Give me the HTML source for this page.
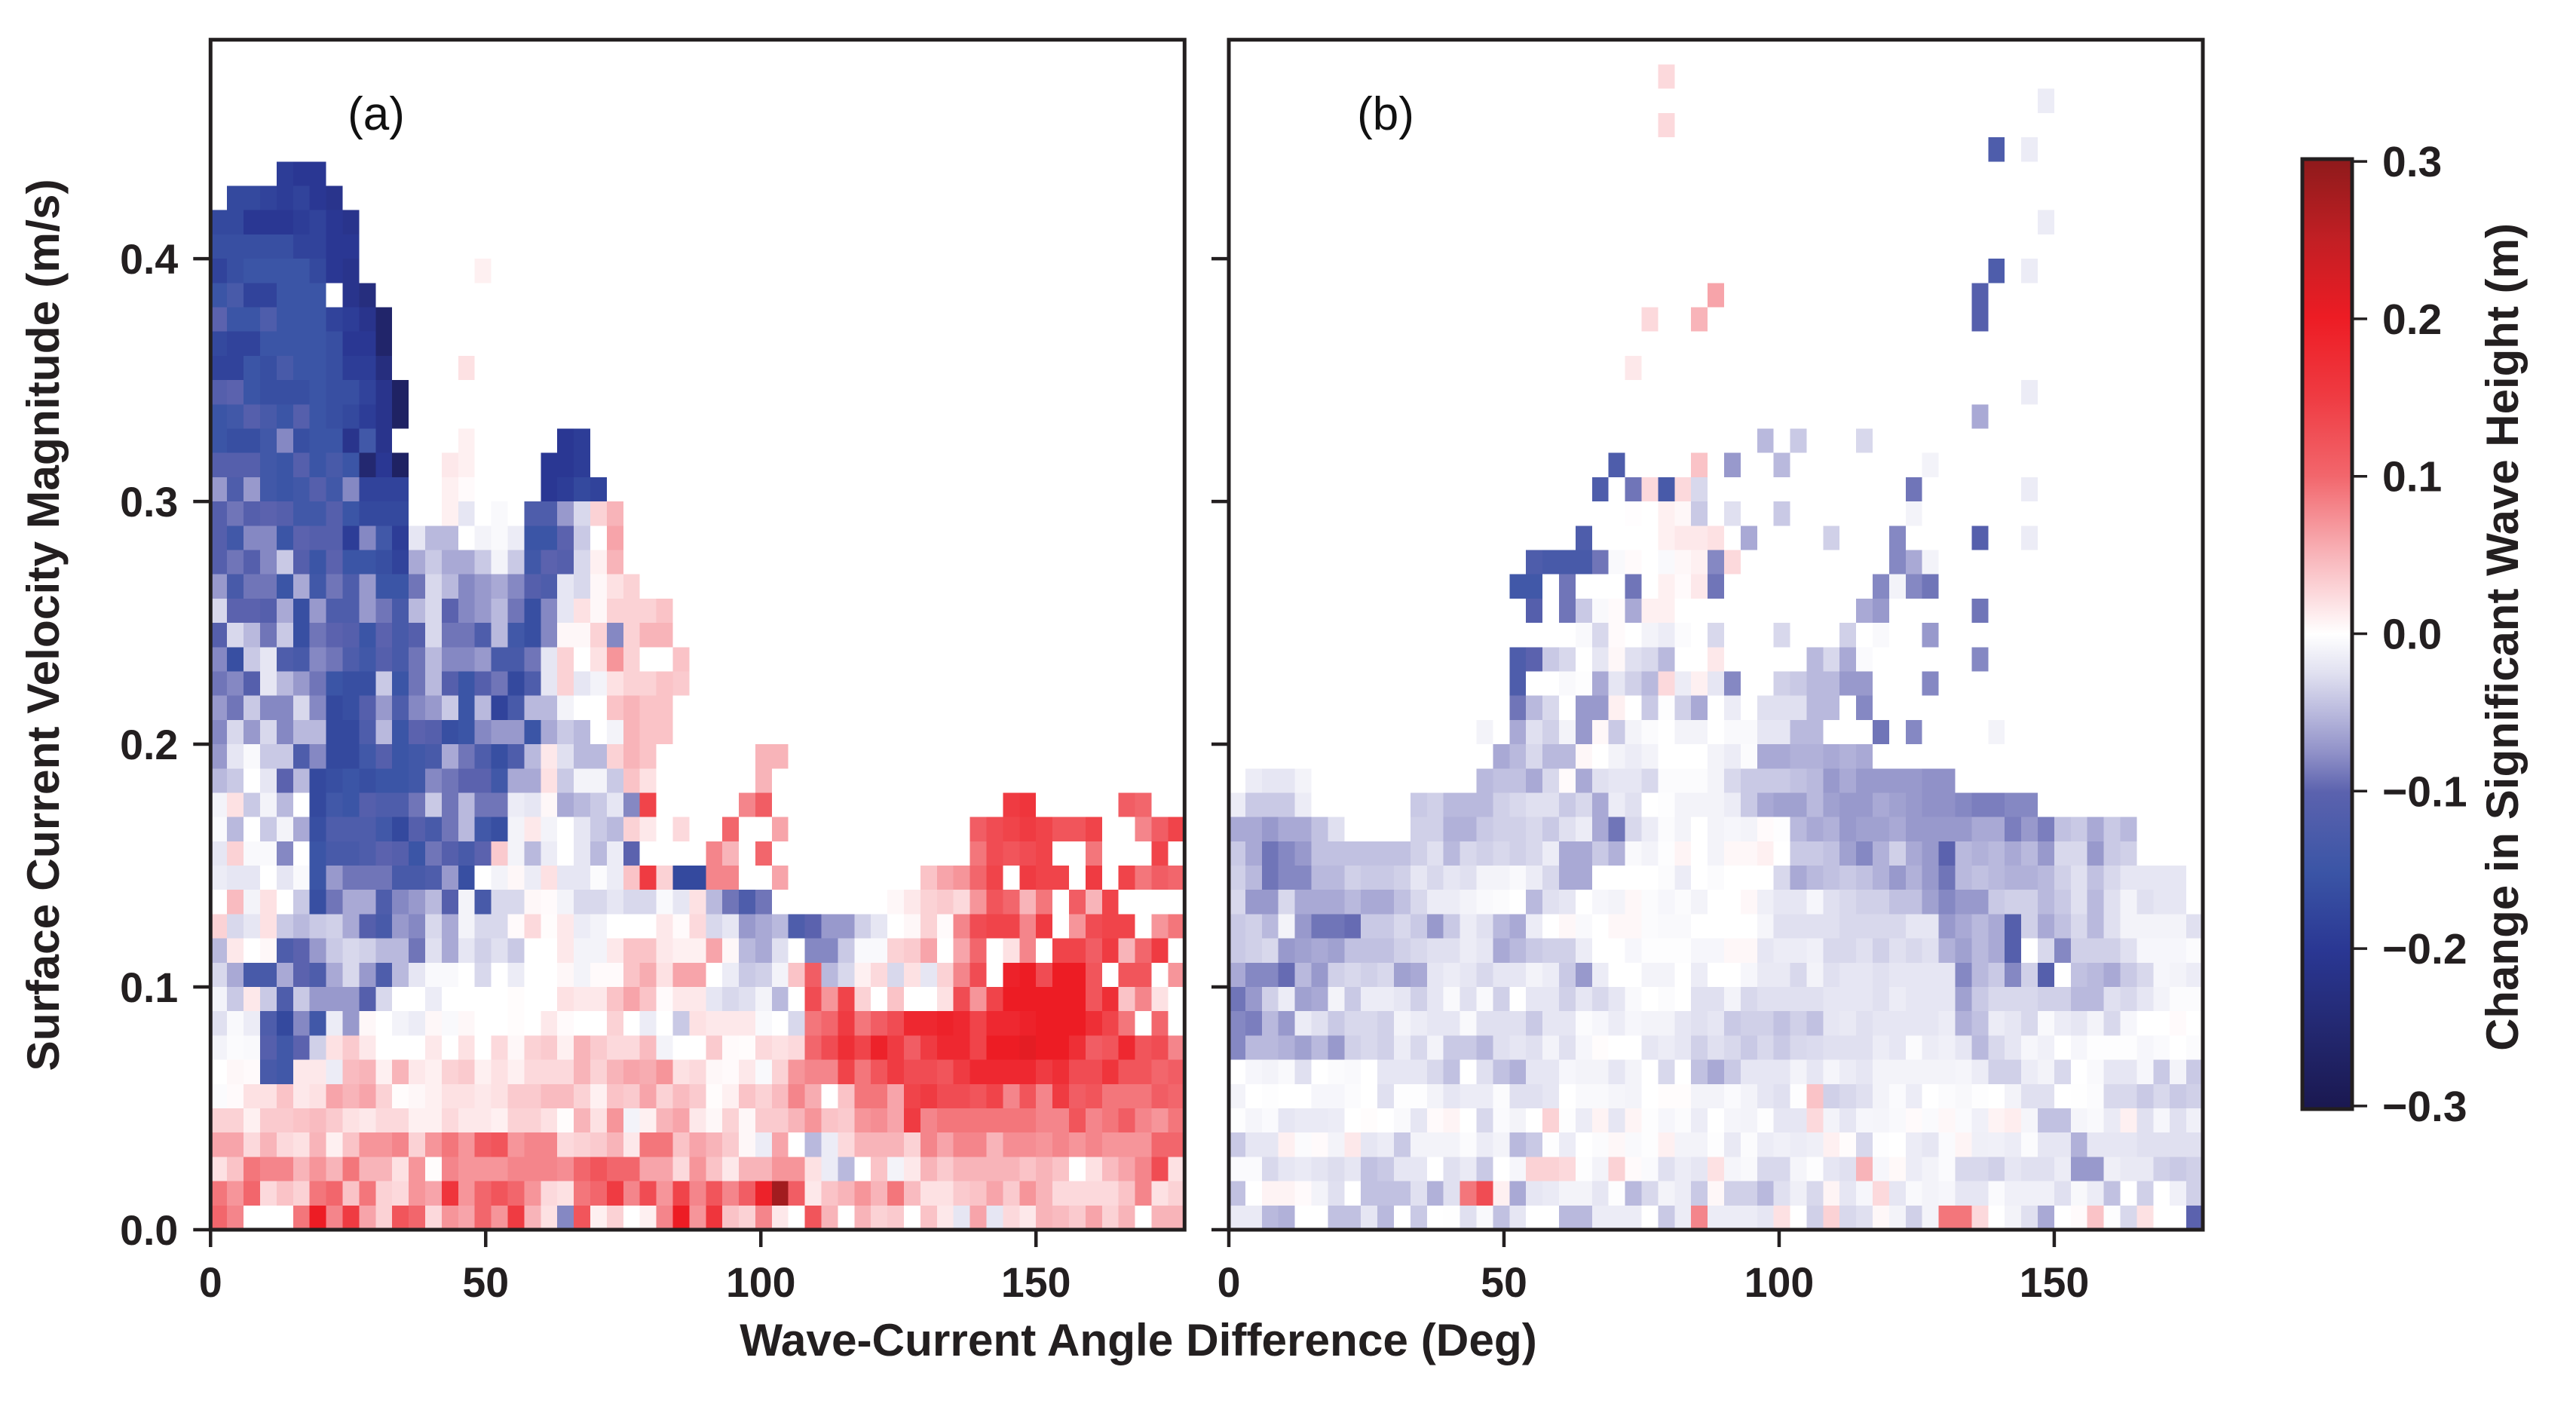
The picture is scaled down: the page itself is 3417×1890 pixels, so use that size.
<!DOCTYPE html>
<html lang="en">
<head>
<meta charset="utf-8">
<title>Change in significant wave height heatmaps</title>
<style>
html,body{margin:0;padding:0;background:#fff;}
svg{display:block;font-family:"Liberation Sans",sans-serif;}
</style>
</head>
<body>
<svg id="chart" xmlns="http://www.w3.org/2000/svg" width="3417" height="1890" viewBox="0 0 3417 1890">
  <defs><linearGradient id="cbarGrad" x1="0" y1="1" x2="0" y2="0"></linearGradient></defs>
  <rect x="0" y="0" width="3417" height="1890" fill="#ffffff"/>
  <g id="cellsA" shape-rendering="crispEdges"></g>
  <g id="cellsB" shape-rendering="crispEdges"></g>
  <g id="axes"></g>
  <text x="499" y="172" font-size="62" text-anchor="middle" fill="#111">(a)</text>
  <text x="1838" y="172" font-size="62" text-anchor="middle" fill="#111">(b)</text>
  <text x="1510" y="1798" font-size="60.3" font-weight="bold" text-anchor="middle" fill="#231f20">Wave-Current Angle Difference (Deg)</text>
  <text transform="translate(78,829) rotate(-90)" font-size="60.5" font-weight="bold" text-anchor="middle" fill="#231f20">Surface Current Velocity Magnitude (m/s)</text>
  <rect id="cbarFill" x="3054" y="211" width="66" height="1260" fill="url(#cbarGrad)" stroke="#231f20" stroke-width="5"/>
  <g id="cbarAxis"></g>
  <text transform="translate(3340,845) rotate(-90)" font-size="60" font-weight="bold" text-anchor="middle" fill="#231f20">Change in Significant Wave Height (m)</text>
</svg>
<script>
const _ = null;
const angleBinDeg = 3;
const speedBinMs = 0.01;
const xTickValues = [0, 50, 100, 150];
const xTickLabels = ["0", "50", "100", "150"];
const yTickValues = [0, 0.1, 0.2, 0.3, 0.4];
const yTickLabels = ["0.0", "0.1", "0.2", "0.3", "0.4"];
const cbarTickValues = [-0.3, -0.2, -0.1, 0, 0.1, 0.2, 0.3];
const cbarTickLabels = ["\u22120.3", "\u22120.2", "\u22120.1", "0.0", "0.1", "0.2", "0.3"];
const colormapValues = [-0.3, -0.25, -0.2, -0.15, -0.1, -0.075, -0.05, -0.025, 0, 0.025, 0.05, 0.1, 0.15, 0.2, 0.25, 0.3];
const colormapColors = ["#1a1850", "#232870", "#2a3793", "#3b55a6", "#5b62ae", "#9091c8", "#b9b9dd", "#e0e0f0", "#ffffff", "#fcd9dc", "#f8b4b9", "#f2666c", "#ef3b42", "#ed1c24", "#c11f24", "#8e1a1b"];

/* Change in wave height in cm; rows run upward from 0.00 m/s, columns rightward from 0 deg. */
const panelAValues = [
[10,8,0,0,0,9,20,8,15,6, 3,12,10,2.5,7,6,10,7,15,5, 2,-8,12,1,3,0,1,8,20,7, 16,4,3,8,1.5,0,12,5,0,5, 3,3.5,0,4,1.5,-2,6,-2,2.5,1.5, 5,4.5,3.5,6,3,5,0,5,5],
[9,7,10,2.5,4,3,9,10,4,9, 3,2.5,7,6,16,7,10,12,10,7, 2.5,2,9,10,15,8,13,7,14,8, 12,8,11,19,28,11,1.5,4,5,7, 5,9,4.5,2,2,3.5,4,6,3.5,7, 5,2.5,2.5,2.5,2.5,4,8,2,3],
[2,4,9,8,8,5,7,5,9,5, 5,2,7,0.2,8,7,7,7,8,8, 8,7.5,10,12,10,10,6,6,2.5,7, 4,1.5,5,5,7,7,2,-1.5,-5,0, 4,-1,1.5,5,3.5,5,5,5,5,4, 5,4,0,2,4.5,6,8,13,2],
[6,6,2.5,5,2.5,2,5,1,4,7, 7,8,3,7,9,7,11,12,7,8, 8,2.5,3,3.5,5,1.5,9,9,4,6, 5,3.5,0.5,-1.5,6,0,-5,-1.5,2.5,5, 5,5,3,8,6,8,8,5,7.5,7.5, 7,8,7,8,7,7,7,10,10],
[3,3,1,3.5,3.5,4,4.5,3.5,2,1.5, 2.5,2.5,1,1,2.5,1.5,1.5,1,3,3, 2,0.2,5,2,7,-1,1,5,6,1.5, 0.5,3,0.5,3.5,3.5,5,7,4,3.5,7, 7.5,6,15,8,9,9,9,9,9,9, 8,8,12,8,9,11,8,7,9],
[-0.3,0.3,2,2,4,1.5,2,6,5,6, 3,0.2,0.5,1,2,2,1.5,2,3.5,3.5, 4.5,4.5,3,1,4,3.5,6,3,4.5,3.5, 0.2,1,4,3,4.5,8,5.5,0,4,9, 9,6,14,15,13,13,12,14,8,12, 8,15,11,12,9,9,9,11,10],
[0,0.5,0.3,-13,-14,1.5,1.5,-1.5,4.5,5, 1,5,1.5,1,3,3.5,1,2,1,2.5, 2.5,2.5,5,3,5,6,5.5,7,2,2.5, 0.5,0.3,1.5,-0.5,3,7,8,8,14,9, 12,15,13,13,12,15,18,18,18,18, 15,17,13,13,16,12,12,10,11],
[-1,-0.3,-0.5,-11,-14,-10,-3.5,2,3.5,1.5, 0,0,0,1.5,0,2,0,2.5,0.5,3, 3.5,1,5,3.5,2.5,2.5,4.5,-1,0,0, 3.5,0.3,0.2,2.5,2,2.5,10,13,17,14, 19,15,11,15,18,18,14,20,20,21, 20,20,17,11,12,18,12,13,8],
[-2.5,-0.5,-1.5,-12,-17,-8,-14,-1.5,-7,0.5, 0,-1,-1.5,0.5,-0.5,0.5,0,0,0.2,0, 1.5,0.3,0,0,3,0,-1.5,0,-4,2, 1.5,1.5,1.5,-0.5,0,-3,9,10,15,9, 11,13,18,18,19,18,14,18,18,19, 20,20,20,17,14,9,0,10,0],
[-1,-4,1.5,-4,-12,-4,-7,-7,-7,-11, -3,0,0,-1.5,0,0,0,0,0.2,0, 0,2,1.5,1.5,4,6,4,0.3,1.5,1.5, -2,-3,-2.5,-1,-5,0,13,7,14,3, 0,4,0,0,2,13,7,14,20,20, 20,20,20,12,17,4,8,2,0],
[-3,-6,-13,-13,-6,-10,-12,-6,-3,-7, -12,-5,-2,-0.5,-0.5,0,-3,0,-1.5,0, 0,0.5,-1,0.3,0.3,4,5.5,2,6,6, 0,-1.5,-4,-3.5,-1,4,11,-5,-3,1, 2.5,-3,2,-2,3,8,13,0,19,20, 13,20,20,12,0,12,12,0,7],
[-5,1.5,0,0.5,-12,-10,-7,-4,-3,-3.5, -5,-5,-9,-2.5,-6,-2,-3.5,-2.5,-4,0, 0,1.5,-1,-1,1.5,4,4,1.5,1,1, 6,0.5,-5,-6,-2.5,0,-8,-8,-4,-0.5, -0.5,3,3.5,6,0,6,10,0,2,8, 0,14,14,11,15,5,10,15,0],
[3,-3,-2,2,-4,-5,-4,-3.5,-6,-11, -13,-7,-8,-3,-6,-1,-3,-3,0.3,2.5, 0.2,1.5,-1.5,-1,0,0,0,1.5,0.3,2.5, -3,-2,-7,-6,-5,-12,-10,-7,-7,-3.5, -2,0,0.5,3,0.3,8,13,14,14,8, 15,0,7,13,14,14,0,7,9],
[0,4.5,-1,2,0,-4,-16,-9,-6,-6, -12,-8,-7,-5,-11,-1,-13,-3,-3,0.5, 0.3,-1,-3,-3,-2,-3,-3,-0.5,-2,2, -5,-9,-12,-9,_,_,_,_,_,_, _,0.5,1.5,3,3.5,2.5,7,12,10,5, 9,_,11,5,14],
[-1.5,-2,-2,0,-2,-0.5,-15,-7,-9,-9, -9,-13,-13,-12,-7,-16,0,-1,0.5,-1.5, 2,-2,-2,-0.3,-1.5,4,15,3,-17,-17, 8,8,_,_,6,_,_,_,_,_, _,_,_,4,6,7,10,14,_,15, 14,14,_,15,_,14,9,11,10],
[-2,3,-0.5,-0.5,-8,0,-15,-13,-13,-12, -10,-11,-15,-9,-11,-13,-10,3.5,-1,-5, -1.5,0,-2,-5,-1.5,-10,_,_,_,_, 8,5,_,10,_,_,_,_,_,_, _,_,_,_,_,_,9,13,12,13, 14,_,_,9,_,_,_,14],
[-0.5,-5,0,-4,-1,-6,-16,-12,-12,-12, -14,-17,-11,-13,-9,-5,-14,-16,-1,1.5, -1,0,-2,-4,-5,3,1.5,0,2.5,_, _,10,_,_,6,_,_,_,_,_, _,_,_,_,_,_,11,13,14,15, 14,12,12,14,_,_,8,11,14],
[-1,2,-4,-1,-5,0,-17,-14,-15,-11, -12,-12,-9,-4,-9,-5,-9,-9,-1.5,-2, 0.5,-6,-5,-4,-2,-8,14,_,_,_, _,_,8,11,_,_,_,_,_,_, _,_,_,_,_,_,_,_,15,16, _,_,_,_,_,11,10],
[-5,-4,0,-2,-10,-5,-17,-16,-15,-16, -15,-15,-14,-8,-9,-10,-10,-14,-6,-6, 2,-4,-1,-1,-4,4,2,_,_,_, _,_,_,5],
[-7,-2,-0.5,-4,-4,-12,-8,-17,-17,-14, -11,-15,-14,-13,-6,-9,-12,-16,-12,-5, 1.5,-2.5,-5,-5,3,5,4,_,_,_, _,_,_,5,5],
[-8,-3,-7,-3,-8,-5,-5,-17,-17,-12, -5,-15,-10,-11,-16,-15,-8,-7,-7,-15, -6,-4,-5,0,-1,5,4,4],
[-7,-9,-4,-8,-8,-3,-8,-17,-16,-11, -7,-12,-8,-7,-4,-15,-5,-18,-13,-5, -5,-1,0,0,4,5,4,4],
[-9,-8,-11,-2,-5,-7,-9,-15,-16,-16, -4,-15,-9,-5,-11,-15,-11,-9,-17,-12, -2,3,-2,-1,2,3,3,4,3.5],
[-8,-16,-4,-2,-12,-13,-8,-9,-12,-14, -11,-13,-9,-5,-8,-8,-7,-13,-13,-9, -2,3,0,2,7,3,_,_,4],
[-11,-3,-5,-9,-4,-16,-9,-10,-11,-15, -10,-13,-11,-3,-9,-9,-12,-5,-14,-16, -8,0.5,0.5,3,-8,3,5,5],
[-3,-10,-10,-11,-6,-16,-7,-12,-12,-7, -9,-13,-5,-3,-10,-8,-7,-5,-9,-16, -8,-2,2,0.5,3,3,3,4],
[-7,-13,-9,-9,-15,-6,-14,-9,-12,-7, -15,-15,-9,-3,-5,-8,-7,-6,-8,-11, -12,-2,-3,0.5,2,3],
[-11,-9,-11,-8,-4,-11,-15,-10,-15,-15, -16,-18,-6,-4,-6,-6,-4,-1,-4,-14, -10,-11,-3,1,5],
[-11,-14,-8,-8,-15,-10,-11,-11,-19,-8, -14,-19,-2,-5,-5,0,-1,-0.5,-1.5,-15, -15,-10,-4,0,6],
[-11,-9,-11,-10,-11,-14,-14,-11,-15,-17, -17,-17,_,_,1,-2,_,-0.5,_,-12, -12,-7,-3,3,5],
[-7,-12,-7,-14,-15,-14,-11,-14,-8,-18, -18,-18,_,_,1,0.3,_,_,_,_, -20,-19,-17,-18],
[-11,-11,-11,-14,-15,-11,-15,-13,-15,-25, -20,-27,_,_,1.5,1,_,_,_,_, -20,-20,-19],
[-15,-16,-16,-14,-8,-16,-15,-15,-21,-14, -21,_,_,_,_,1,_,_,_,_, _,-20,-19],
[-15,-14,-11,-13,-15,-11,-15,-16,-17,-19, -21,-27],
[-11,-10,-15,-16,-16,-16,-15,-16,-16,-18, -21,-27],
[-18,-18,-15,-16,-13,-15,-15,-16,-19,-19, -23,_,_,_,_,2],
[-17,-18,-18,-15,-15,-15,-15,-16,-20,-20, -26],
[-10,-15,-15,-12,-15,-15,-15,-18,-19,-21, -26],
[-15,-13,-18,-18,-15,-15,-15,_,-21,-23],
[-18,-16,-15,-15,-15,-15,-17,-20,-21,_, _,_,_,_,_,_,1],
[-16,-16,-16,-16,-16,-18,-18,-20,-20],
[-17,-17,-20,-20,-20,-19,-18,-20,-21],
[_,-17,-17,-18,-19,-18,-20,-21],
[_,_,_,_,-19,-20,-20]
];

const panelBValues = [
[-1.7,-1.7,-5,-5.5,0,0,-4.5,-4.5,-2,-5, 0,-4,0,-0.1,-2.5,-0.5,-4.5,-2,0,0, -5,-5,-1.5,-1.5,-1.5,0,-4,-1.5,8,-1.5, -1.5,-1.5,-2,2,0,-3.5,3,-3,-2.5,0.5, -1,-3.5,-1,9,9,2.5,0,-1,-2.5,-6, 0,0.3,4,-0.2,-3,2,0,0,-10],
[-4.5,0,0.8,0.8,0.3,-1,-2.5,0,-4.5,-4.5, -4.5,-2.5,-5.5,-2.5,9,13,1,-6,-2,-1.7, -1,-1,-2,-0.2,-5,-3,-1,-1.5,-4,0.5, -3.5,-3.5,-5,-2.5,-1.3,-3,0.7,-2,-0.7,2.5, -2,-0.5,-1,-0.7,-2,-2,-0.4,-1.2,-1.2,-1.2, -2.5,-0.6,-1.5,-4.5,0,-3.5,0,-1.2,-3.5],
[-0.4,-0.4,-3,-2,-1.7,-2.2,-2.7,-2,-4.5,-4, -2,-2,0,-2.5,-1.7,-4,0,-0.7,3,3, 2.5,-0.2,-1,3,0.3,-0.4,-2.5,-1.5,-2,2, -0.8,-0.5,-3,-3,-0.8,-0.2,-2,-2.5,5,-0.7, 0.4,-1.5,-1,-0.4,-3,-3,-3.5,-2,-2.5,-2.5, -1.5,-7,-7,-1.3,-1.8,-1.8,-3.5,-4,-3.5],
[-4,-2,-2,1,-0.3,0.3,-1,1.5,-2,-1.5, -4,-1,-1,-1,-0.3,-1.5,-1,-5,-4,-0.2, -1.5,0,-0.3,0.5,-0.5,-0.2,1,-1,-1,-0.2, -1.8,-0.3,-1.5,-1.2,-1.5,-1.3,1,0.2,-3,-0.2, 0,-1.5,-2,-0.4,0.7,-1.3,-1.2,-1.5,-0.3,-2, -2,-5.5,-2,-2,-2,-2.5,-2.5,-2.5,-2.5],
[-0.2,-0.8,-0.4,-2,-1.7,-1.7,-1.5,0,0.2,0, -0.5,-2,0.3,0.7,0,-3,-0.4,-1,0,3, -0.2,-1.5,0.8,-2,0.7,-0.2,-0.7,-0.3,-1.5,0, -0.8,-1,-0.2,-2,-2,2.5,-1,-2,-0.7,-0.8, -0.5,0.3,-0.4,0.5,-0.4,-1.2,0.8,1.2,-0.8,-4.5, -4.5,-0.8,-0.5,-1.7,1,-2.5,-0.7,-2.5,-1.2],
[-1,0,-0.2,0,0,-0.7,-0.7,-0.3,0,-2.5, -0.2,-0.2,-1,-2,-1.5,-1.5,-0.3,-2.5,-2.5,-2, 0,-0.5,-0.5,-0.8,-1,0,0.2,0.2,-1,-1, -0.4,-1,-2,-2.5,-0.2,4,-3.5,-3,-2.5,-1, -0.4,-1.5,0,-0.3,-0.6,-0.2,0,-1,-2.5,-2.5, 0,-0.1,-0.3,-3,-3,-4,-3,-4,-3.5],
[0,-0.7,-1,-0.5,-2.5,0,-0.3,-0.5,0,-2, -2,-2,-3,-4.5,0,-2.5,-4.5,-5.5,-2,-2, -0.7,-1,-1,-2,-1,0,-3,0,-4.5,-6, -4,-2,-2,-2,-1,-2,-0.8,-1.5,-2,-1, -1,-1,-1,-1,-0.8,-1.5,-3.5,-3.5,-1.5,-1, -3,0,-0.5,-2,-2,-0.7,-4,-1,-4],
[-8,-5,-5,-5.5,-6.5,-5,-7,-3.5,-3,-3.5, -1.5,-3,-1,-4,-4,-5,-2.5,-2,-2.5,-1, -2.5,-0.7,0.2,0,0,-2,-1.5,-2,-3.5,-2.5, -3,-4,-3,-4,-3,-2.8,-2.5,-2.5,-2.5,-1.5, -2,-0.3,-1.5,-1.2,-2,-5,-3,-2,-0.7,-1.2, 0,-0.7,-0.2,-0.2,-0.2,-0.7,-0.4,0,-0.3],
[-8,-8.5,-5,-7,-1.5,-2.5,-4,-3,-3,-3.5, -1,-1.5,-2,-2,-0.5,-2.5,-2.5,-2.5,-4,-2, -2,-0.3,-0.7,-1.5,-0.7,-1,-1,-2,-2.5,-2, -4,-3.5,-3.5,-4.5,-3.5,-4.5,-2,-1.8,-2.5,-2, -2,-2,-2,-1.5,-5.5,-4.5,-1.5,-2,-3,-0.5, -1.5,-2,-1,-3,-0.7,0,0,0.3,0],
[-9,-7,-3.5,-1.5,-6.5,-6,-1,-4,-1.5,-1.5, -2,-3.5,-2,-0.5,-2.5,-0.5,-3.5,0,-2,-2, -3.5,-2,-3,-2,-0.5,0,-0.3,0,-2.5,-2.5, -1,-3,-2.5,-2.5,-2.5,-2.5,-2,-2,-2,-2.5, -1.5,-2,-2,-2,-6.5,-4,-3,-3,-3,-3.5, -3.5,-5,-5,-2.5,-3,-2,-1,-0.3,-0.3],
[-6,-8,-8,-9.5,-5,-7,-3.5,-3,-3.5,-3, -6.5,-6,-2,-1.5,-2,-3,-2,-2,-1,-1.5, -4,-7,-1.5,0,0,-1,-1,0,-1.5,0, 0,-0.7,-1.8,-1.8,-3,-1,-2.5,-2,-2,-2.5, -2,-2,-2,-2,-8,-5,-4,-8,-3.5,-11, 0,-4.5,-5,-6,-4,-3,-0.7,-1,-1.5],
[-4,-3.5,-3,-7,-6.5,-6,-6.5,-4.5,-4.5,-4.5, -3.5,-3,-2.5,-2.5,-1.5,-2,-6,-5,-4,-3.5, -3.5,-1.5,0,0,-0.7,-0.2,-0.2,-0.2,-0.7,-0.7, 0.5,0.5,-2,-1.5,-1.5,-1.2,-3,-3,-2.5,-3.5, -2.5,-3,-2.5,-5.5,-6.5,-5,-6,-11,0,-3, -8,-3.5,-3.5,-3.5,-2.5,-0.7,-0.7,-0.7,-0.3],
[-4,-3.5,-5,-1,-7,-9,-9,-9.5,-4,-4, -3,-4,-7,-4,-1.5,-2.5,-5,-6,-1.5,0, 0.5,-0.5,0,0.5,0.5,-0.3,-0.5,-0.5,0,0, 0,0,-0.8,-2.5,-2.5,-2.5,-2.5,-3,-3,-3, -3,-2,-2,-7,-6,-5,-6,-11,-3.5,-6, -4.5,-3,-5,-2.5,-1,-1,-1,-1,-2.5],
[-3,-7,-7,-3,-6,-6,-6,-5,-6,-6, -4.5,-3,-1.5,-1.5,-1,-0.5,-0.3,0,-5,-2.5, -2,0,-0.7,-1,0.5,-0.3,-0.7,-0.3,-1,0, 0,0.5,-1.3,-2,-2,-0.7,-2.5,-3,-3.5,-3.5, -4.5,-4.5,-6.5,-8,-7,-7,-4,-3.5,-3.5,-5, -4,-2.5,-5,-2.5,-1,-2.5,-2,-2],
[-3.5,-5,-9,-8,-8,-5,-5,-3.5,-4,-4, -3.5,-2,-3,-2,-2.5,-1,-1,-0.5,-1.5,-3, -6,-6,0,0,0,0,-0.3,-1.5,0,-0.3, 0,0,0,-3,-6,-5,-4.5,-4,-4.5,-5.5, -7,-5.5,-7,-9,-5,-4.5,-5,-5.5,-5.5,-5, -3.5,-2.5,-4.5,-3,-2,-2,-2,-2],
[-4,-6,-9,-8,-7,-4.5,-4.5,-4.5,-4.5,-4.5, -4.5,-3.5,-2.5,-5,-3,-3.5,-3,-3.5,-3,-1.5, -6,-6,-4,-5.5,-0.5,-1,-0.2,0.7,0,-1, 0.5,0.5,1,0,-4,-4,-4.5,-6.5,-8,-5.5, -3.5,-6,-7,-10,-5,-5.5,-5,-6,-5,-7, -3,-3,-7,-4,-3.5],
[-6,-6,-7,-6,-6,-4.5,-2.5,_,_,_, _,-3.5,-3.5,-5.5,-5.5,-4,-3.5,-3.5,-3,-4, -2.5,-1.5,-6,-9,-3,-1.5,-0.3,-1,0,-1, -0.7,-1,0.3,-0.2,-5,-6,-5.5,-7,-6.5,-6.5, -6,-7,-7,-7,-7,-6,-6,-8.5,-7,-8.5, -4.5,-4,-6,-4,-5],
[-1.5,-4,-4,-4,-1.5,_,_,_,_,_, _,-4,-3.5,-5,-5,-5,-3.5,-3,-2.5,-2.5, -4,-3,-6,-1.5,-2.5,0,-0.2,-1,-1,-1, -1.5,-4,-6,-6.5,-6.5,-5,-6.5,-7,-7,-6, -6.5,-7,-7.5,-7.5,-8,-8.5,-8.5,-8,-8],
[_,-1.5,-2,-2,-1,_,_,_,_,_, _,_,_,_,_,-5,-4.5,-4.5,-6,-3, 0.3,-6,-2.5,-2,-2,-3,-0.3,-0.3,-0.3,-1, -3,-4,-4,-4,-4.5,-5,-7,-6,-7,-7, -7,-7,-7.5,-7.5],
[_,_,_,_,_,_,_,_,_,_, _,_,_,_,_,_,-6,-5,-3,-5, -5,0.5,0,-1,-1.5,-1,0,0,0,-1, -1.5,-0.3,-6,-6,-5.5,-5.5,-6,-5.5,-6],
[_,_,_,_,_,_,_,_,_,_, _,_,_,_,_,-1,_,-6,-2.5,-3.5, -1,-7,0.5,-4,-1,-0.3,0,-1,-1,0, -0.5,-0.5,-2,-2,-5,-5,_,_,_,-9, _,-8,_,_,_,_,-1],
[_,_,_,_,_,_,_,_,_,_, _,_,_,_,_,_,_,-9,-5,-3, 0,-7,-7,1,0,-4,-0.2,-3.5,-6,0, -1.5,_,-2.5,-2.5,-2.5,-5,-5,_,-8],
[_,_,_,_,_,_,_,_,_,_, _,_,_,_,_,_,_,-12,0,0, -0.5,-0.2,-6,-2,-3.5,-5,2.5,-1.5,1,-2, -8,_,_,-3.5,-4,-5,-5,-7,-7,_, _,_,-8],
[_,_,_,_,_,_,_,_,_,_, _,_,_,_,_,_,_,-12,-10,-4, -3,0,-2,0.5,-2.5,-3,-5,0,0,1.5, _,_,_,_,_,-5,-3,-6,-0.4,_, _,_,_,_,_,-8],
[_,_,_,_,_,_,_,_,_,_, _,_,_,_,_,_,_,_,_,_, _,-0.5,-3,0.3,0,-1,-1.5,-0.3,0,-3, _,_,_,-3,_,_,_,-3.5,_,-0.5, _,_,-7],
[_,_,_,_,_,_,_,_,_,_, _,_,_,_,_,_,_,_,-11,_, -9,-4,-0.5,0.3,-6,1,1,_,_,_, _,_,_,_,_,_,_,_,-6,-7, _,_,_,_,_,-9],
[_,_,_,_,_,_,_,_,_,_, _,_,_,_,_,_,_,-14,-14,_, -9,_,_,_,-9,_,1,0.3,1.5,-9, _,_,_,_,_,_,_,_,_,-8, -1,-8,-9],
[_,_,_,_,_,_,_,_,_,_, _,_,_,_,_,_,_,_,-12,-13, -13,-13,-9,-0.5,0.3,_,-0.5,0.5,1,-8, 2.5,_,_,_,_,_,_,_,_,_, -8,-6,-1],
[_,_,_,_,_,_,_,_,_,_, _,_,_,_,_,_,_,_,_,_, _,-12,_,_,_,_,1,1.5,1.5,2, _,-6,_,_,_,_,-3.5,_,_,_, -8,_,_,_,_,-11,_,_,-1.5],
[_,_,_,_,_,_,_,_,_,_, _,_,_,_,_,_,_,_,_,_, _,_,_,_,0.1,_,1,0.5,-4,_, -2.5,_,_,-4,_,_,_,_,_,_, _,-1],
[_,_,_,_,_,_,_,_,_,_, _,_,_,_,_,_,_,_,_,_, _,_,-12,_,-9,2.5,-13,2.5,-3,_, _,_,_,_,_,_,_,_,_,_, _,-9,_,_,_,_,_,_,-1.5],
[_,_,_,_,_,_,_,_,_,_, _,_,_,_,_,_,_,_,_,_, _,_,_,-12,_,_,_,_,4,_, -7,_,_,-5,_,_,_,_,_,_, _,_,-1],
[_,_,_,_,_,_,_,_,_,_, _,_,_,_,_,_,_,_,_,_, _,_,_,_,_,_,_,_,_,_, _,_,-5,_,-4,_,_,_,-3],
[_,_,_,_,_,_,_,_,_,_, _,_,_,_,_,_,_,_,_,_, _,_,_,_,_,_,_,_,_,_, _,_,_,_,_,_,_,_,_,_, _,_,_,_,_,-6],
[_,_,_,_,_,_,_,_,_,_, _,_,_,_,_,_,_,_,_,_, _,_,_,_,_,_,_,_,_,_, _,_,_,_,_,_,_,_,_,_, _,_,_,_,_,_,_,_,-1.5],
[_,_,_,_,_,_,_,_,_,_, _,_,_,_,_,_,_,_,_,_, _,_,_,_,1.5],
[],
[_,_,_,_,_,_,_,_,_,_, _,_,_,_,_,_,_,_,_,_, _,_,_,_,_,2.5,_,_,5,_, _,_,_,_,_,_,_,_,_,_, _,_,_,_,_,-11],
[_,_,_,_,_,_,_,_,_,_, _,_,_,_,_,_,_,_,_,_, _,_,_,_,_,_,_,_,_,6, _,_,_,_,_,_,_,_,_,_, _,_,_,_,_,-11],
[_,_,_,_,_,_,_,_,_,_, _,_,_,_,_,_,_,_,_,_, _,_,_,_,_,_,_,_,_,_, _,_,_,_,_,_,_,_,_,_, _,_,_,_,_,_,-12,_,-1.5],
[],
[_,_,_,_,_,_,_,_,_,_, _,_,_,_,_,_,_,_,_,_, _,_,_,_,_,_,_,_,_,_, _,_,_,_,_,_,_,_,_,_, _,_,_,_,_,_,_,_,_,-1.5],
[],
[],
[_,_,_,_,_,_,_,_,_,_, _,_,_,_,_,_,_,_,_,_, _,_,_,_,_,_,_,_,_,_, _,_,_,_,_,_,_,_,_,_, _,_,_,_,_,_,-12,_,-1.5],
[_,_,_,_,_,_,_,_,_,_, _,_,_,_,_,_,_,_,_,_, _,_,_,_,_,_,2.5],
[_,_,_,_,_,_,_,_,_,_, _,_,_,_,_,_,_,_,_,_, _,_,_,_,_,_,_,_,_,_, _,_,_,_,_,_,_,_,_,_, _,_,_,_,_,_,_,_,_,-1.5],
[_,_,_,_,_,_,_,_,_,_, _,_,_,_,_,_,_,_,_,_, _,_,_,_,_,_,2.5]
];

const SVG_NS = "http://www.w3.org/2000/svg";
const xDomainMax = 177;
const yDomainMax = 0.4902;
const plotWidth = 1292;
const plotTop = 52.7;
const plotBottom = 1631;
const panelALeft = 279.3;
const panelBLeft = 1630;
const ink = "#231f20";

function xScale(left, deg) { return left + deg / xDomainMax * plotWidth; }
function yScale(speed) { return plotBottom - speed / yDomainMax * (plotBottom - plotTop); }
function cbarScale(v) { return 840.5 - v * 2088; }

function hexToRgb(h) {
  return [parseInt(h.slice(1, 3), 16), parseInt(h.slice(3, 5), 16), parseInt(h.slice(5, 7), 16)];
}
function colorFor(v) {
  const clamped = Math.max(colormapValues[0], Math.min(colormapValues[colormapValues.length - 1], v));
  for (let i = 1; i < colormapValues.length; i++) {
    if (clamped <= colormapValues[i]) {
      const t = (clamped - colormapValues[i - 1]) / (colormapValues[i] - colormapValues[i - 1]);
      const a = hexToRgb(colormapColors[i - 1]);
      const b = hexToRgb(colormapColors[i]);
      return "rgb(" + a.map((c, k) => Math.round(c + (b[k] - c) * t)).join(",") + ")";
    }
  }
  return colormapColors[colormapColors.length - 1];
}

function drawCells(groupId, rows, left) {
  const group = document.getElementById(groupId);
  rows.forEach((row, r) => {
    row.forEach((value, c) => {
      if (value === null || value === undefined) return;
      const el = document.createElementNS(SVG_NS, "rect");
      
      
      const x0 = xScale(left, c * angleBinDeg);
      const x1 = xScale(left, (c + 1) * angleBinDeg);
      const y0 = yScale((r + 1) * speedBinMs);
      const y1 = yScale(r * speedBinMs);
      el.setAttribute("x", x0.toFixed(2));
      el.setAttribute("y", y0.toFixed(2));
      el.setAttribute("width", (x1 - x0).toFixed(2));
      el.setAttribute("height", (y1 - y0).toFixed(2));
      el.setAttribute("fill", colorFor(value / 100));
      group.appendChild(el);
    });
  });
}

function addLine(parent, name, x1, y1, x2, y2, w) {
  const el = document.createElementNS(SVG_NS, "line");
  
  
  el.setAttribute("x1", x1);
  el.setAttribute("y1", y1);
  el.setAttribute("x2", x2);
  el.setAttribute("y2", y2);
  el.setAttribute("stroke", ink);
  el.setAttribute("stroke-width", w);
  parent.appendChild(el);
}
function addText(parent, name, x, y, anchor, size, str) {
  const el = document.createElementNS(SVG_NS, "text");
  
  
  el.setAttribute("x", x);
  el.setAttribute("y", y);
  el.setAttribute("text-anchor", anchor);
  el.setAttribute("font-size", size);
  el.setAttribute("font-weight", "bold");
  el.setAttribute("fill", ink);
  el.textContent = str;
  parent.appendChild(el);
}

function drawAxes(left, showYLabels) {
  const axes = document.getElementById("axes");
  const frame = document.createElementNS(SVG_NS, "rect");
  
  
  frame.setAttribute("x", left);
  frame.setAttribute("y", plotTop);
  frame.setAttribute("width", plotWidth);
  frame.setAttribute("height", plotBottom - plotTop);
  frame.setAttribute("fill", "none");
  frame.setAttribute("stroke", ink);
  frame.setAttribute("stroke-width", 5);
  axes.appendChild(frame);
  xTickValues.forEach((v, i) => {
    const x = xScale(left, v);
    addLine(axes, "x-tick", x, plotBottom, x, plotBottom + 23, 4.5);
    addText(axes, "x-tick-label", x, 1720, "middle", 55.5, xTickLabels[i]);
  });
  yTickValues.forEach((v, i) => {
    const y = yScale(v);
    addLine(axes, "y-tick", left - 23, y, left, y, 4.5);
    if (showYLabels) addText(axes, "y-tick-label", left - 43, y + 20, "end", 55.5, yTickLabels[i]);
  });
}

function drawColorbar() {
  const grad = document.getElementById("cbarGrad");
  colormapValues.forEach((v, i) => {
    const stop = document.createElementNS(SVG_NS, "stop");
    stop.setAttribute("offset", ((v + 0.3) / 0.6 * 100).toFixed(2) + "%");
    stop.setAttribute("stop-color", colormapColors[i]);
    grad.appendChild(stop);
  });
  const axis = document.getElementById("cbarAxis");
  cbarTickValues.forEach((v, i) => {
    const y = cbarScale(v);
    addLine(axis, "colorbar-tick", 3120, y, 3140, y, 3.5);
    addText(axis, "colorbar-tick-label", 3160, y + 20, "start", 57, cbarTickLabels[i]);
  });
}

drawCells("cellsA", panelAValues, panelALeft);
drawCells("cellsB", panelBValues, panelBLeft);
drawAxes(panelALeft, true);
drawAxes(panelBLeft, false);
drawColorbar();
</script>
</body>
</html>
